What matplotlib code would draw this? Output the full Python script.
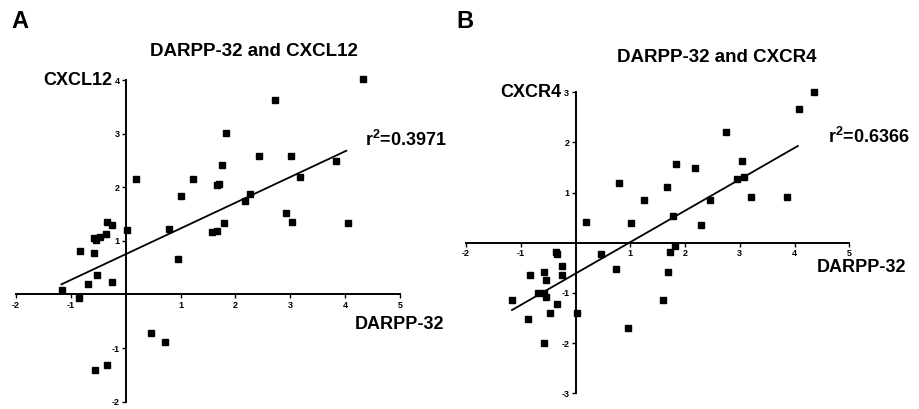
import numpy as np
import matplotlib
matplotlib.use('Agg')
from matplotlib import pyplot as plt

plt.rcParams['font.family'] = ['Liberation Sans', 'DejaVu Sans']
plt.rcParams['font.weight'] = 'bold'
plt.rcParams['axes.unicode_minus'] = False
plt.rcParams['mathtext.fontset'] = 'custom'
plt.rcParams['mathtext.rm'] = 'Liberation Sans:bold'
plt.rcParams['mathtext.bf'] = 'Liberation Sans:bold'

# panel A: DARPP-32 vs CXCL12
darpp_a = [-1.17, -0.86, -0.84, -0.69, -0.57, -0.58, -0.55, -0.53, -0.47, -0.36,
           -0.35, -0.25, -0.25, 0.02, 0.18, 0.46, 0.72, -0.56, -0.35, 0.78,
           0.95, 1.00, 1.23, 1.57, 1.66, 1.79, 1.66, 1.70, 1.76, 1.82,
           2.17, 2.27, 2.43, 2.73, 2.93, 3.01, 3.04, 3.18, 3.83, 4.06, 4.33]
cxcl12 = [0.09, -0.07, 0.81, 0.19, 0.77, 1.05, 1.01, 0.37, 1.08, 1.12,
          1.35, 1.29, 0.23, 1.20, 2.16, -0.71, -0.89, -1.41, -1.31, 1.22,
          0.67, 1.83, 2.16, 1.16, 1.19, 1.33, 2.04, 2.06, 2.42, 3.01,
          1.74, 1.88, 2.58, 3.62, 1.52, 2.58, 1.35, 2.19, 2.49, 1.33, 4.01]
fit_a_x = [-1.17, 4.02]
fit_a_y = [0.19, 2.68]

# panel B: DARPP-32 vs CXCR4
darpp_b = [-1.16, -0.86, -0.83, -0.69, -0.57, -0.57, -0.54, -0.53, -0.57, -0.46,
           -0.36, -0.33, -0.33, -0.24, -0.24, 0.02, 0.19, 0.46, 0.74, 0.79,
           0.96, 1.02, 1.25, 1.59, 1.68, 1.67, 1.72, 1.78, 1.81, 1.84,
           2.19, 2.29, 2.45, 2.75, 2.95, 3.04, 3.07, 3.21, 3.86, 4.09, 4.36]
cxcr4 = [-1.15, -1.52, -0.65, -1.00, -1.00, -0.59, -1.09, -0.75, -2.00, -1.39,
         -0.19, -0.23, -1.22, -0.46, -0.65, -1.39, 0.41, -0.23, -0.52, 1.20,
         -1.70, 0.39, 0.85, -1.15, -0.59, 1.12, -0.19, 0.54, -0.07, 1.57,
         1.50, 0.35, 0.86, 2.20, 1.28, 1.64, 1.31, 0.92, 0.92, 2.67, 3.01]
fit_b_x = [-1.16, 4.06]
fit_b_y = [-1.34, 1.93]

x_ticks = [-2, -1, 1, 2, 3, 4, 5]
y_ticks_a = [-2, -1, 1, 2, 3, 4]
y_ticks_b = [-3, -2, -1, 1, 2, 3]

fig = plt.figure(figsize=(9.2, 4.09), dpi=100)
ax_a = fig.add_axes([16 / 920, 1 - 401.7 / 409, 384 / 920, 321.7 / 409])
ax_b = fig.add_axes([466 / 920, 1 - 393.3 / 409, 383.3 / 920, 301 / 409])


def style_axes(ax, xlim, ylim, yticks):
    ax.set_xlim(*xlim)
    ax.set_ylim(*ylim)
    ax.spines['left'].set_position(('data', 0))
    ax.spines['bottom'].set_position(('data', 0))
    ax.spines['top'].set_visible(False)
    ax.spines['right'].set_visible(False)
    ax.spines['left'].set_linewidth(1.4)
    ax.spines['bottom'].set_linewidth(1.4)
    ax.set_xticks(x_ticks)
    ax.set_yticks(yticks)
    ax.tick_params(direction='out', length=3, width=1, labelsize=6.5, pad=1.5)
    for lbl in ax.get_xticklabels() + ax.get_yticklabels():
        lbl.set_fontweight('bold')
    ax.patch.set_alpha(0)


# panel A
style_axes(ax_a, (-2, 5), (-2, 4), y_ticks_a)
ax_a.plot(darpp_a, cxcl12, 's', color='black', ms=4.2, clip_on=False)
ax_a.plot(fit_a_x, fit_a_y, '-', color='black', lw=1.3)
ax_a.annotate('CXCL12', xy=(0, 4), xytext=(-10, 0), textcoords='offset points',
              ha='right', va='center', fontsize=13, fontweight='bold')
ax_a.annotate('DARPP-32', xy=(5, 0), xytext=(32, -21.5), textcoords='offset points',
              ha='right', va='center', fontsize=13, fontweight='bold')

# panel B
style_axes(ax_b, (-2, 5), (-3, 3), y_ticks_b)
ax_b.plot(darpp_b, cxcr4, 's', color='black', ms=4.2, clip_on=False)
ax_b.plot(fit_b_x, fit_b_y, '-', color='black', lw=1.3)
ax_b.annotate('CXCR4', xy=(0, 3), xytext=(-10, 0), textcoords='offset points',
              ha='right', va='center', fontsize=13, fontweight='bold')
ax_b.annotate('DARPP-32', xy=(5, 0), xytext=(41, -18), textcoords='offset points',
              ha='right', va='center', fontsize=13, fontweight='bold')

# titles, panel letters and r^2 labels
fig.text(254 / 920, 1 - 52 / 409, 'DARPP-32 and CXCL12', ha='center', va='center',
         fontsize=13.5, fontweight='bold')
fig.text(717 / 920, 1 - 57 / 409, 'DARPP-32 and CXCR4', ha='center', va='center',
         fontsize=13.5, fontweight='bold')
fig.text(11 / 920, 1 - 21 / 409, 'A', ha='left', va='center', fontsize=17, fontweight='bold')
fig.text(456 / 920, 1 - 21 / 409, 'B', ha='left', va='center', fontsize=17, fontweight='bold')
fig.text(365 / 920, 1 - 140 / 409, r'r$^{2}$=0.3971', ha='left', va='center',
         fontsize=13, fontweight='bold')
fig.text(828 / 920, 1 - 137 / 409, r'r$^{2}$=0.6366', ha='left', va='center',
         fontsize=13, fontweight='bold')

fig.savefig('out.png', dpi=100, facecolor='white')
